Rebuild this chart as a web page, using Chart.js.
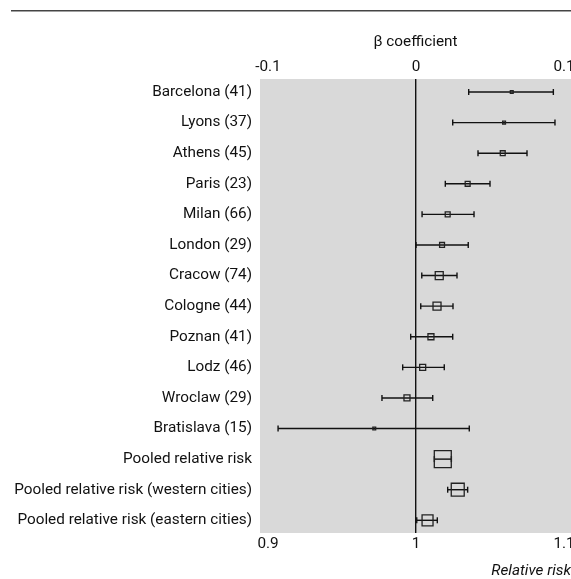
<!DOCTYPE html>
<html>
<head>
<meta charset="utf-8">
<script src="https://cdn.jsdelivr.net/npm/chart.js@4/dist/chart.umd.min.js"></script>
<style>
  html, body { margin: 0; padding: 0; background: #ffffff; }
  #wrap { width: 571px; height: 579px; }
</style>
</head>
<body>
<div id="wrap"><canvas id="c" width="571" height="579"></canvas></div>
<script>
// ---- data ----
const categories = [
  "Barcelona (41)", "Lyons (37)", "Athens (45)", "Paris (23)", "Milan (66)",
  "London (29)", "Cracow (74)", "Cologne (44)", "Poznan (41)", "Lodz (46)",
  "Wroclaw (29)", "Bratislava (15)", "Pooled relative risk",
  "Pooled relative risk (western cities)", "Pooled relative risk (eastern cities)"
];
const relativeRisk = [1.0647, 1.0595, 1.0586, 1.0349, 1.0214, 1.0176, 1.0157, 1.0142, 1.0101, 1.0045, 0.9939, 0.9718, 1.0181, 1.0282, 1.0078];
const ciLower      = [1.0356, 1.0248, 1.0419, 1.0198, 1.0041, 1.0000, 1.0039, 1.0032, 0.9964, 0.9910, 0.9770, 0.9068, 1.0124, 1.0214, 1.0005];
const ciUpper      = [1.0928, 1.0939, 1.0750, 1.0500, 1.0392, 1.0353, 1.0277, 1.0250, 1.0248, 1.0191, 1.0113, 1.0360, 1.0239, 1.0349, 1.0144];
const weights      = [2, 2, 6, 6, 6, 6, 16, 16, 9, 9, 9, 2, 72, 42, 30];
const rrTicks   = [0.9, 1, 1.1];
const rrLabels  = ["0.9", "1", "1.1"];
const betaLabels = ["-0.1", "0", "0.1"];

// ---- chart ----
const FONT = "'Roboto', 'Liberation Sans', sans-serif";
const FS = 15.3;
const TEXT = '#111111';
const X_MIN = 0.89459, X_MAX = 1.10473;

const datasets = [];
categories.forEach((c, i) => {
  datasets.push({
    type: 'line',
    data: [{x: ciLower[i], y: i}, {x: ciUpper[i], y: i}],
    borderColor: '#111111',
    borderWidth: 1.4,
    pointStyle: 'line',
    pointRotation: 90,
    pointRadius: 3,
    pointBorderWidth: 1.4,
    pointBorderColor: '#111111',
    pointHoverRadius: 3,
    fill: false,
    order: 2
  });
});
datasets.push({
  type: 'scatter',
  data: relativeRisk.map((v, i) => ({x: v, y: i})),
  pointStyle: 'rect',
  pointRadius: weights.map(w => 2 * Math.sqrt(w) / (2 * Math.SQRT1_2)),
  pointHoverRadius: weights.map(w => 2 * Math.sqrt(w) / (2 * Math.SQRT1_2)),
  pointBackgroundColor: 'rgba(0,0,0,0)',
  pointBorderColor: '#222222',
  pointBorderWidth: 1.3,
  order: 1
});

// draws the background of the plot area, the rule at the top and the x tick labels
const decoPlugin = {
  id: 'deco',
  beforeDraw(chart) {
    const {ctx, chartArea: a} = chart;
    ctx.save();
    ctx.fillStyle = '#d9d9d9';
    ctx.fillRect(a.left, a.top, a.right - a.left, a.bottom - a.top);
    ctx.restore();
  },
  afterDraw(chart) {
    const ctx = chart.ctx;
    const a = chart.chartArea;
    ctx.save();
    ctx.strokeStyle = '#444444';
    ctx.lineWidth = 1.6;
    ctx.beginPath();
    ctx.moveTo(11, 10.8);
    ctx.lineTo(chart.width, 10.8);
    ctx.stroke();
    ctx.fillStyle = TEXT;
    ctx.font = FS + 'px ' + FONT;
    ctx.textAlign = 'center';
    ctx.textBaseline = 'middle';
    const sx = chart.scales.x, sx2 = chart.scales.x2;
    rrTicks.forEach((v, i) => {
      ctx.fillText(rrLabels[i], sx.getPixelForValue(v), a.bottom + 11);
      ctx.fillText(betaLabels[i], sx2.getPixelForValue(v), a.top - 11.5);
    });
    ctx.restore();
  }
};

const noPad = s => { s.paddingLeft = 0; s.paddingRight = 0; s.paddingTop = 0; s.paddingBottom = 0; };

new Chart(document.getElementById('c'), {
  type: 'scatter',
  data: { datasets },
  plugins: [decoPlugin],
  options: {
    responsive: false,
    devicePixelRatio: 1,
    animation: false,
    events: [],
    layout: { padding: 0, autoPadding: false },
    plugins: { legend: { display: false }, tooltip: { enabled: false } },
    scales: {
      x: {
        type: 'linear',
        position: 'bottom',
        min: X_MIN, max: X_MAX,
        afterBuildTicks: s => { s.ticks = rrTicks.map(v => ({value: v})); },
        afterFit: s => { s.height = 46; noPad(s); },
        border: { display: false },
        grid: {
          drawTicks: false,
          color: ctx => (ctx.tick && ctx.tick.value === 1) ? '#111111' : 'rgba(0,0,0,0)',
          lineWidth: 1.4
        },
        ticks: { display: false },
        title: {
          display: true,
          text: 'Relative risk',
          align: 'end',
          color: TEXT,
          font: { family: FONT, size: FS, style: 'italic' },
          padding: { top: 0, bottom: -1.5 }
        }
      },
      x2: {
        type: 'linear',
        position: 'top',
        min: X_MIN, max: X_MAX,
        afterBuildTicks: s => { s.ticks = rrTicks.map(v => ({value: v})); },
        afterFit: s => { s.height = 79; noPad(s); },
        border: { display: false },
        grid: { display: false, drawTicks: false },
        ticks: { display: false },
        title: {
          display: true,
          text: 'β coefficient',
          color: TEXT,
          font: { family: FONT, size: FS },
          padding: { top: 33, bottom: 0 }
        }
      },
      y: {
        type: 'linear',
        reverse: true,
        min: -0.425, max: 14.415,
        afterBuildTicks: s => { s.ticks = categories.map((c, i) => ({value: i})); },
        afterFit: s => { s.width = 260; noPad(s); },
        border: { display: false },
        grid: { display: false, drawTicks: false },
        ticks: {
          padding: 8,
          color: TEXT,
          font: { family: FONT, size: FS },
          callback: (v, i) => categories[i]
        }
      }
    }
  }
});
</script>
</body>
</html>
